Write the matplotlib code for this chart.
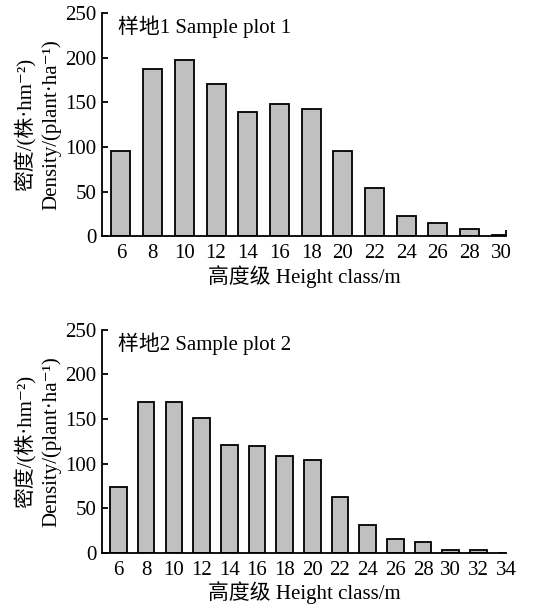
import numpy as np
import matplotlib
matplotlib.use("Agg")
import matplotlib.pyplot as plt

plt.rcParams['font.family'] = ['Liberation Serif', 'Noto Sans CJK SC', 'DejaVu Sans']
plt.rcParams['font.size'] = 15

# sample plot 1
classes1 = ['6', '8', '10', '12', '14', '16', '18', '20', '22', '24', '26', '28', '30']
density1 = [96, 188, 198, 171, 139, 148, 143, 96, 54, 23, 15, 8, 1.5]

# sample plot 2
classes2 = ['6', '8', '10', '12', '14', '16', '18', '20', '22', '24', '26', '28', '30', '32', '34']
density2 = [74, 169.5, 169.5, 151, 120.5, 120, 108, 103.5, 62.5, 30.5, 15, 12.5, 2.6, 2.6, 0]

titles = ['样地1 Sample plot 1', '样地2 Sample plot 2']
ylab = '密度/(株·hm⁻²)\nDensity/(plant·ha⁻¹)'
xlab = '高度级 Height class/m'

fig = plt.figure(figsize=(5.39, 6.07), dpi=100)
ax1 = fig.add_axes([0.189, 0.611, 0.750, 0.367])
ax2 = fig.add_axes([0.189, 0.0895, 0.750, 0.367])

for ax, cls, dens, title, xr in [(ax1, classes1, density1, titles[0], 12.15),
                                 (ax2, classes2, density2, titles[1], 14.0)]:
    x = np.arange(len(cls))
    ax.bar(x, dens, width=0.6, color='#c0c0c0', edgecolor='black', linewidth=1.3)
    ax.set_xlim(-0.6, xr)
    ax.set_ylim(0, 250)
    ax.set_xticks(x)
    ax.set_xticklabels(cls)
    ax.set_xticks([xr], minor=True)
    ax.tick_params(axis='x', which='major', length=0, pad=6)
    ax.tick_params(axis='x', which='minor', direction='in', length=4, width=1.3)
    ax.set_yticks([0, 50, 100, 150, 200, 250])
    ax.tick_params(axis='y', direction='in', length=4, width=1.3, pad=4)
    for s in ['top', 'right']:
        ax.spines[s].set_visible(False)
    for s in ['left', 'bottom']:
        ax.spines[s].set_linewidth(1.3)
    ax.set_ylabel(ylab, linespacing=1.3, labelpad=3)
    ax.set_xlabel(xlab, labelpad=1)
    ax.text(0.04, 0.94, title, transform=ax.transAxes, ha='left', va='center')

fig.savefig('out.png', dpi=100)
